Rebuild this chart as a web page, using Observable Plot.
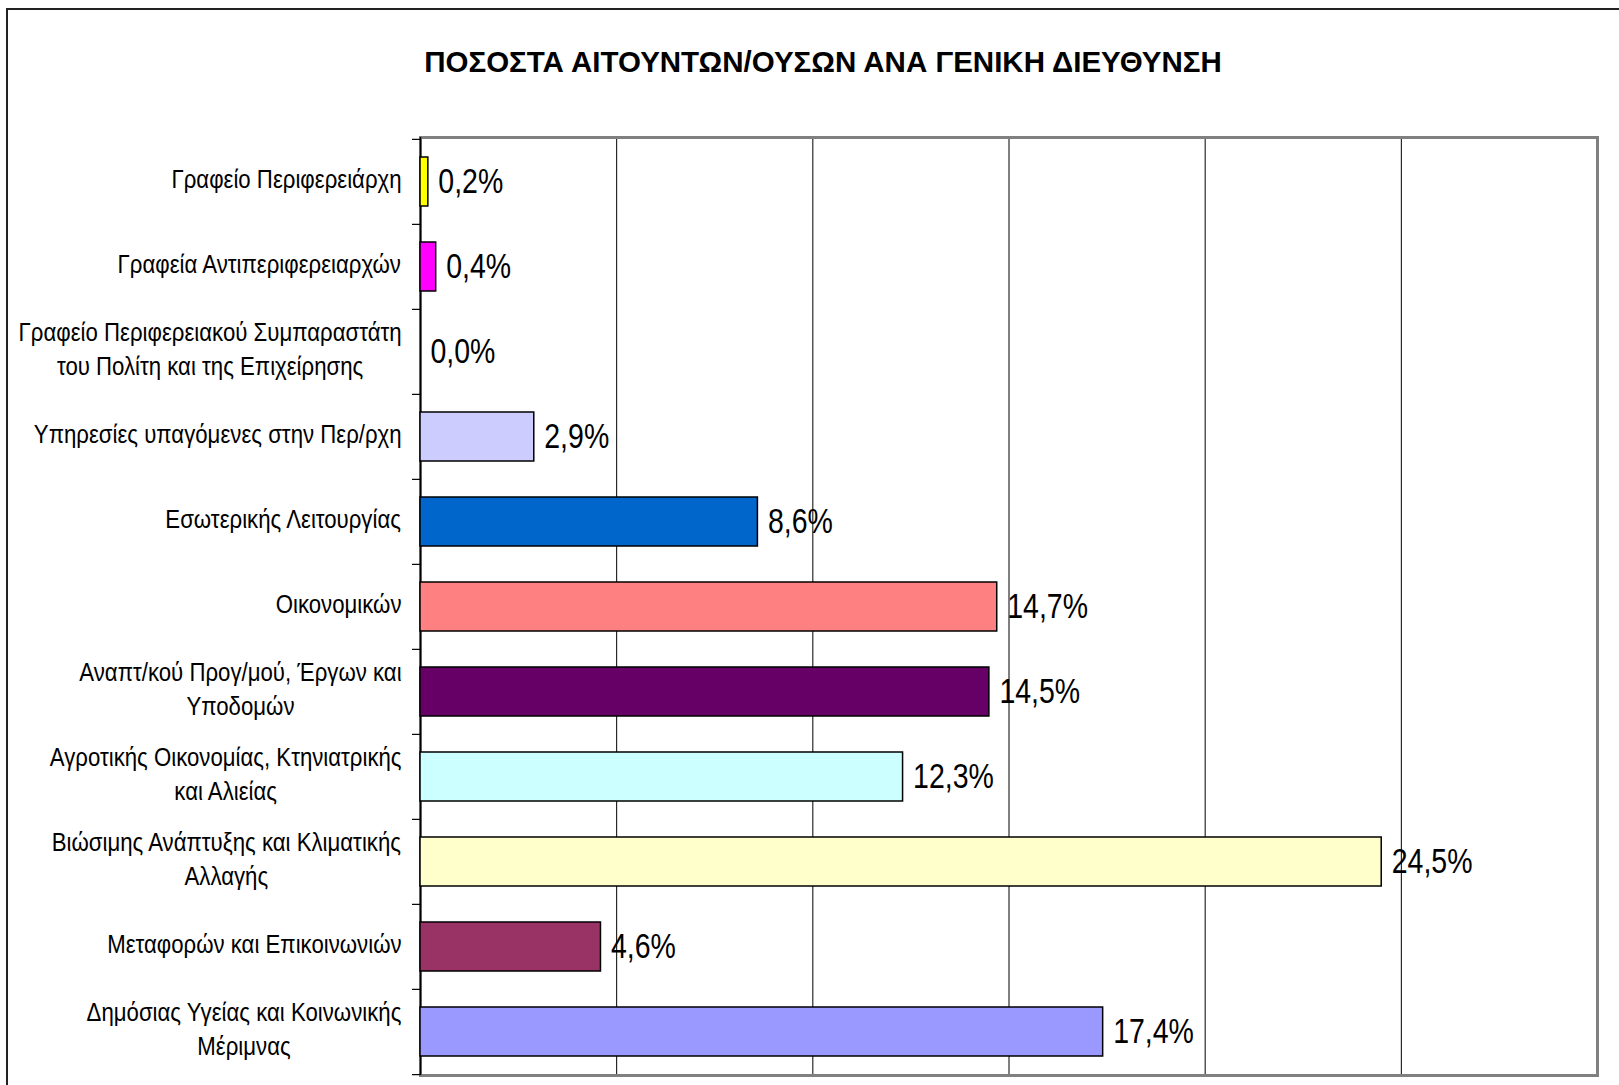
<!DOCTYPE html>
<html><head><meta charset="utf-8">
<script src="https://cdn.jsdelivr.net/npm/d3@7"></script>
<script src="https://cdn.jsdelivr.net/npm/@observablehq/plot@0.6"></script>
<style>
html,body{margin:0;padding:0;background:#fff;}
#wrap{position:relative;width:1619px;height:1085px;overflow:hidden;background:#fff;}
#frame{position:absolute;left:6px;top:8px;width:1700px;height:1200px;border-left:2px solid #222;border-top:2px solid #222;}
#title{position:absolute;left:0;top:48px;width:1646px;text-align:center;font:bold 29.5px/28px "Liberation Sans",Arial,sans-serif;color:#000;white-space:nowrap;}
#chart{position:absolute;left:0;top:100px;}
</style></head><body>
<div id="wrap"><div id="frame"></div><div id="title">ΠΟΣΟΣΤΑ ΑΙΤΟΥΝΤΩΝ/ΟΥΣΩΝ ΑΝΑ ΓΕΝΙΚΗ ΔΙΕΥΘΥΝΣΗ</div><div id="chart"></div></div>
<script>
const categories = [
  "Γραφείο Περιφερειάρχη",
  "Γραφεία Αντιπεριφερειαρχών",
  "Γραφείο Περιφερειακού Συμπαραστάτη του Πολίτη και της Επιχείρησης",
  "Υπηρεσίες υπαγόμενες στην Περ/ρχη",
  "Εσωτερικής Λειτουργίας",
  "Οικονομικών",
  "Αναπτ/κού Προγ/μού, Έργων και Υποδομών",
  "Αγροτικής Οικονομίας, Κτηνιατρικής και Αλιείας",
  "Βιώσιμης Ανάπτυξης και Κλιματικής Αλλαγής",
  "Μεταφορών και Επικοινωνιών",
  "Δημόσιας Υγείας και Κοινωνικής Μέριμνας"
];
const categoryLines = [
  ["Γραφείο Περιφερειάρχη"],
  ["Γραφεία Αντιπεριφερειαρχών"],
  ["Γραφείο Περιφερειακού Συμπαραστάτη", "του Πολίτη και της Επιχείρησης"],
  ["Υπηρεσίες υπαγόμενες στην Περ/ρχη"],
  ["Εσωτερικής Λειτουργίας"],
  ["Οικονομικών"],
  ["Αναπτ/κού Προγ/μού, Έργων και", "Υποδομών"],
  ["Αγροτικής Οικονομίας, Κτηνιατρικής", "και Αλιείας"],
  ["Βιώσιμης Ανάπτυξης και Κλιματικής", "Αλλαγής"],
  ["Μεταφορών και Επικοινωνιών"],
  ["Δημόσιας Υγείας και Κοινωνικής", "Μέριμνας"]
];
const values = [0.2, 0.4, 0.0, 2.9, 8.6, 14.7, 14.5, 12.3, 24.5, 4.6, 17.4];
const colors = ["#FFFF00", "#FF00FF", "#FFFFFF", "#CCCCFF", "#0066CC", "#FF8080", "#660066", "#CCFFFF", "#FFFFCC", "#993366", "#9999FF"];
const xDomain = [0, 30];
const gridTicks = [5, 10, 15, 20, 25];

const data = categories.map((name, i) => ({
  name, value: values[i], color: colors[i],
  label: values[i].toFixed(1).replace(".", ",") + "%"
}));

const fontFamily = "Liberation Sans";
const labelSize = 22.2;
const valueSize = 28.5;
const stretch = 1.2;

const ctx = document.createElement("canvas").getContext("2d");
ctx.font = `${labelSize}px "${fontFamily}"`;
const labelWidths = categoryLines.map(lines => Math.max(...lines.map(l => ctx.measureText(l).width)));

const W = 1619, H = 985, mT = 37, mB = 10, mL = 420, mR = 22;
const bw = (H - mT - mB) / categories.length;

const labelMarks = categories.map((c, i) => Plot.text([c], {
  y: d => d,
  text: () => categoryLines[i].join("\n"),
  frameAnchor: "left",
  textAnchor: "middle",
  lineAnchor: "middle",
  lineHeight: 1.28,
  dx: -(19 + labelWidths[i] / 2),
  dy: -5,
  fontSize: labelSize,
  fontFamily,
  fill: "#000"
}));

const chart = Plot.plot({
  width: W, height: H,
  marginTop: mT, marginBottom: mB, marginLeft: mL, marginRight: mR,
  style: {background: "transparent", overflow: "visible"},
  x: {domain: xDomain, axis: null},
  y: {domain: categories, padding: 0, label: null},
  color: {type: "identity"},
  marks: [
    Plot.ruleX(gridTicks, {stroke: "#000", strokeWidth: 1}),
    Plot.frame({stroke: "#808080", strokeWidth: 3}),
    Plot.ruleX([0], {stroke: "#000", strokeWidth: 1.5}),
    Plot.axisY({ticks: categories, tickSize: 8, tickFormat: () => "", label: null, dy: -bw / 2, stroke: "#000", strokeWidth: 1.2}),
    Plot.axisY({ticks: categories.slice(-1), tickSize: 8, tickFormat: () => "", label: null, dy: bw / 2, stroke: "#000", strokeWidth: 1.2}),
    Plot.barX(data.filter(d => d.value > 0), {
      x: "value", y: "name", fill: "color", stroke: "#000", strokeWidth: 1.5,
      insetTop: 18, insetBottom: 18
    }),
    Plot.text(data, {
      x: "value", y: "name", text: "label", textAnchor: "start", dx: 10,
      fontSize: valueSize, fontFamily, fill: "#000"
    }),
    ...labelMarks
  ]
});
document.getElementById("chart").appendChild(chart);
// stretch text vertically around its own centre (the source chart's text is taller than wide)
chart.querySelectorAll("text").forEach(t => {
  if (!t.textContent) return;
  const b = t.getBBox();
  const cx = b.x + b.width / 2, cy = b.y + b.height / 2;
  const tr = t.getAttribute("transform") || "";
  t.setAttribute("transform", `${tr} translate(${cx},${cy}) scale(1,${stretch}) translate(${-cx},${-cy})`);
});
</script>
</body></html>
